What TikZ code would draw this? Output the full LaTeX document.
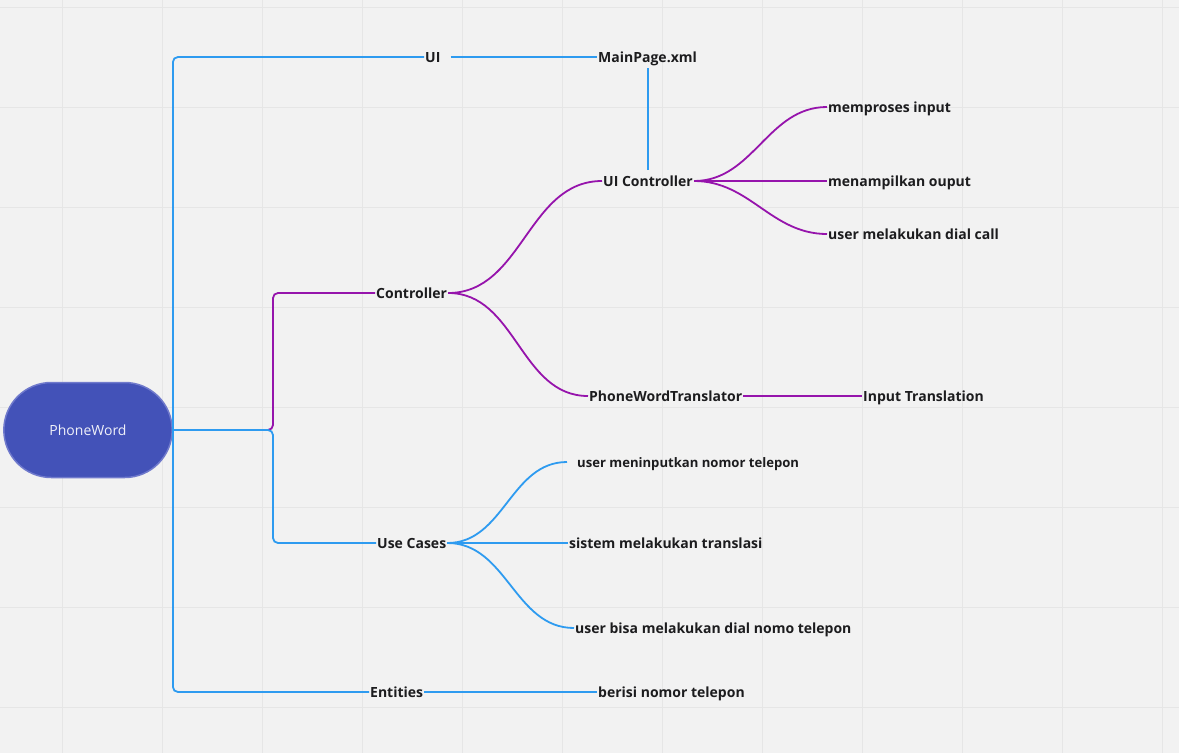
\documentclass[tikz,border=0pt]{standalone}
\usepackage{fontspec}
\setmainfont{Open Sans}
\usetikzlibrary{shapes.misc}
\definecolor{mapblue}{RGB}{46,155,240}
\definecolor{mappurple}{RGB}{150,20,172}
\definecolor{rootfill}{RGB}{67,82,184}
\definecolor{rootedge}{RGB}{112,122,204}
\definecolor{gridgray}{RGB}{230,230,230}
\definecolor{bggray}{RGB}{242,242,242}
\definecolor{inkgray}{RGB}{28,28,30}

\begin{document}
\begin{tikzpicture}[x=1pt,y=-1pt,
    item/.style={anchor=west,inner sep=1pt,text height=10pt,text depth=0pt,text=inkgray,font=\bfseries\fontsize{14}{16}\selectfont},
    blueline/.style={draw=mapblue,line width=1.8pt},
    purpleline/.style={draw=mappurple,line width=1.8pt},
    swoop/.style={out=0,in=180}]
    \fill[bggray] (0,0) rectangle (1179,753);
    \useasboundingbox (0,0) rectangle (1179,753);
    \foreach \x in {62,162,...,1162}
      \draw[gridgray,line width=1pt] (\x,0) to (\x,753);
    \foreach \y in {7,107,...,707}
      \draw[gridgray,line width=1pt] (0,\y) to (1179,\y);
    % root
    \node[rounded rectangle,fill=rootfill,draw=rootedge,line width=1.5pt,minimum width=175pt,minimum height=95pt,text=white!92!rootfill,font=\fontsize{14}{16}\selectfont] (root) at (88,430) {PhoneWord};
    % first level
    \node[item] (ui) at (424,57) {UI\kern9pt};
    \node[item] (ctrl) at (375,293) {Controller};
    \node[item] (usecases) at (376,543) {Use Cases};
    \node[item] (ents) at (369,692) {Entities};
    % second level
    \node[item] (mainpage) at (597,57) {MainPage.xml};
    \node[item] (uictrl) at (602,181) {UI Controller};
    \node[item] (translator) at (588,396) {PhoneWordTranslator};
    \node[item] (uc1) at (576,462) {\fontsize{13.1}{16}\selectfont user meninputkan nomor telepon};
    \node[item] (uc2) at (568,543) {sistem melakukan translasi};
    \node[item] (uc3) at (574,628) {user bisa melakukan dial nomo telepon};
    \node[item] (berisi) at (597,692) {berisi nomor telepon};
    % third level
    \node[item] (proses) at (827,107) {memproses input};
    \node[item] (tampil) at (827,181) {menampilkan ouput};
    \node[item] (dial) at (827,234) {user melakukan dial call};
    \node[item] (inputtr) at (862,396) {Input Translation};
    \coordinate (upbend) at (273,350);
    \coordinate (downbend) at (273,490);
    \coordinate (uc1end) at (567,462);
    \coordinate (mptop) at (648,68);
    \coordinate (mpfoot) at (648,170);
    % controller branch
    \draw[purpleline,rounded corners=5pt] (root.east) -| (upbend) |- (ctrl.west);
    \draw[purpleline] (ctrl.east) to[swoop] (uictrl.west);
    \draw[purpleline] (ctrl.east) to[swoop] (translator.west);
    \draw[purpleline] (uictrl.east) to[swoop] (proses.west);
    \draw[purpleline] (uictrl.east) to (tampil.west);
    \draw[purpleline] (uictrl.east) to[swoop] (dial.west);
    \draw[purpleline] (translator.east) to (inputtr.west);
    % trunk and the blue branches
    \draw[blueline,rounded corners=5pt] (ui.west) -| (root.east);
    \draw[blueline,rounded corners=5pt] (ents.west) -| (root.east);
    \draw[blueline,rounded corners=5pt] (root.east) -| (downbend) |- (usecases.west);
    \draw[blueline] (ui.east) to (mainpage.west);
    \draw[blueline] (mptop) to (mpfoot);
    \draw[blueline] (usecases.east) to[swoop] (uc1end);
    \draw[blueline] (usecases.east) to (uc2.west);
    \draw[blueline] (usecases.east) to[swoop] (uc3.west);
    \draw[blueline] (ents.east) to (berisi.west);
\end{tikzpicture}
\end{document}
